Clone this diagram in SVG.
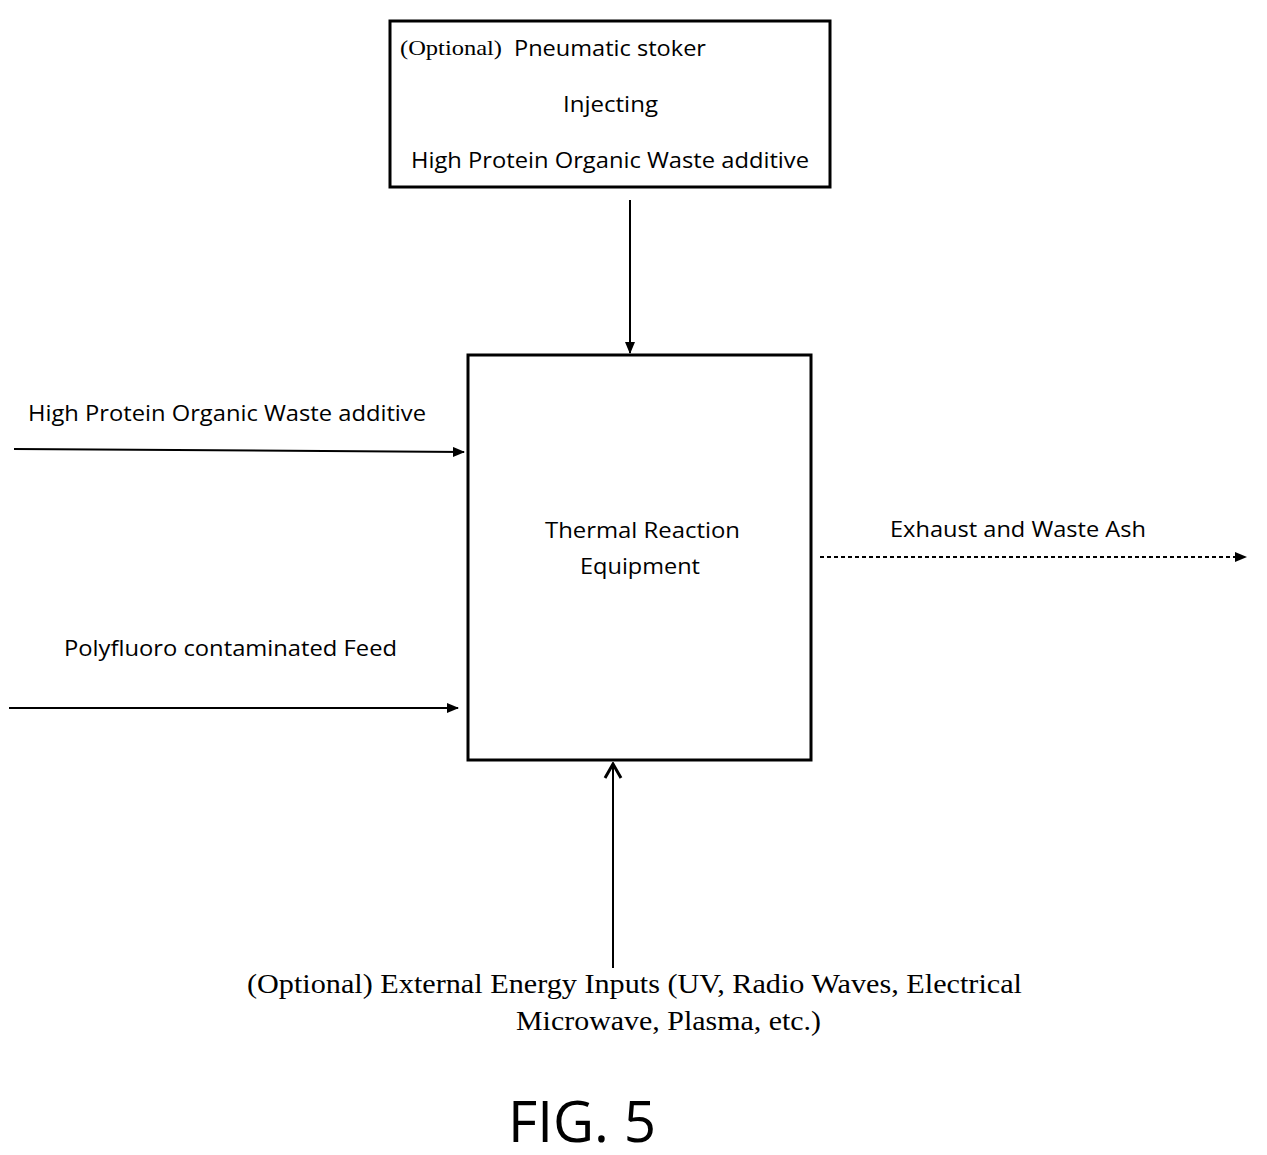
<svg xmlns="http://www.w3.org/2000/svg" width="1267" height="1155" viewBox="0 0 1267 1155">
<style>
.s{font-family:"Open Sans","Liberation Sans",sans-serif;font-size:22px;fill:#000}
.t{font-family:"Liberation Serif",serif;font-size:28px;fill:#000}
.b{fill:#fff;stroke:#000;stroke-width:3}
.c{stroke:#000;stroke-width:2;fill:none}
</style>
<defs>
<marker id="a" markerWidth="12" markerHeight="10" refX="11" refY="5" orient="auto" markerUnits="userSpaceOnUse"><path d="M0,0 L12,5 L0,10 Z" fill="#000"/></marker>
<marker id="o" markerWidth="18" markerHeight="20" refX="16" refY="10" orient="auto" markerUnits="userSpaceOnUse"><path d="M2,2 L16,10 L2,18" fill="none" stroke="#000" stroke-width="3"/></marker>
</defs>
<rect width="1267" height="1155" fill="#fff"/>
<g id="stoker">
<rect class="b" x="390" y="21" width="440" height="166"/>
<text x="400" y="55" font-family="Liberation Serif,serif" font-size="22" textLength="102" lengthAdjust="spacingAndGlyphs">(Optional)</text>
<text class="s" x="514" y="56" textLength="192" lengthAdjust="spacingAndGlyphs">Pneumatic stoker</text>
<text class="s" x="563" y="112" textLength="95" lengthAdjust="spacingAndGlyphs">Injecting</text>
<text class="s" x="411" y="168" textLength="398" lengthAdjust="spacingAndGlyphs">High Protein Organic Waste additive</text>
</g>
<g id="reactor">
<rect class="b" x="468" y="355" width="343" height="405"/>
<text class="s" x="545" y="538" textLength="195" lengthAdjust="spacingAndGlyphs">Thermal Reaction</text>
<text class="s" x="580" y="574" textLength="120" lengthAdjust="spacingAndGlyphs">Equipment</text>
</g>
<g id="labels">
<text class="s" x="28" y="421" textLength="398" lengthAdjust="spacingAndGlyphs">High Protein Organic Waste additive</text>
<text class="s" x="64" y="656" textLength="333" lengthAdjust="spacingAndGlyphs">Polyfluoro contaminated Feed</text>
<text class="s" x="890" y="537" textLength="256" lengthAdjust="spacingAndGlyphs">Exhaust and Waste Ash</text>
<text class="t" x="247" y="993" textLength="775" lengthAdjust="spacingAndGlyphs">(Optional) External Energy Inputs (UV, Radio Waves, Electrical</text>
<text class="t" x="516" y="1030" textLength="305" lengthAdjust="spacingAndGlyphs">Microwave, Plasma, etc.)</text>
<text x="508" y="1142" font-family="'Open Sans','Liberation Sans',sans-serif" font-size="56" textLength="148" lengthAdjust="spacingAndGlyphs">FIG. 5</text>
</g>
<g id="connectors">
<line class="c" x1="630" y1="200" x2="630" y2="353" marker-end="url(#a)"/>
<line class="c" x1="14" y1="449" x2="464" y2="452" marker-end="url(#a)"/>
<line class="c" x1="9" y1="708" x2="458" y2="708" marker-end="url(#a)"/>
<line class="c" x1="820" y1="557" x2="1246" y2="557" stroke-dasharray="4,3" marker-end="url(#a)"/>
<line class="c" x1="613" y1="968" x2="613" y2="764" stroke-width="3" marker-end="url(#o)"/>
</g>
</svg>
